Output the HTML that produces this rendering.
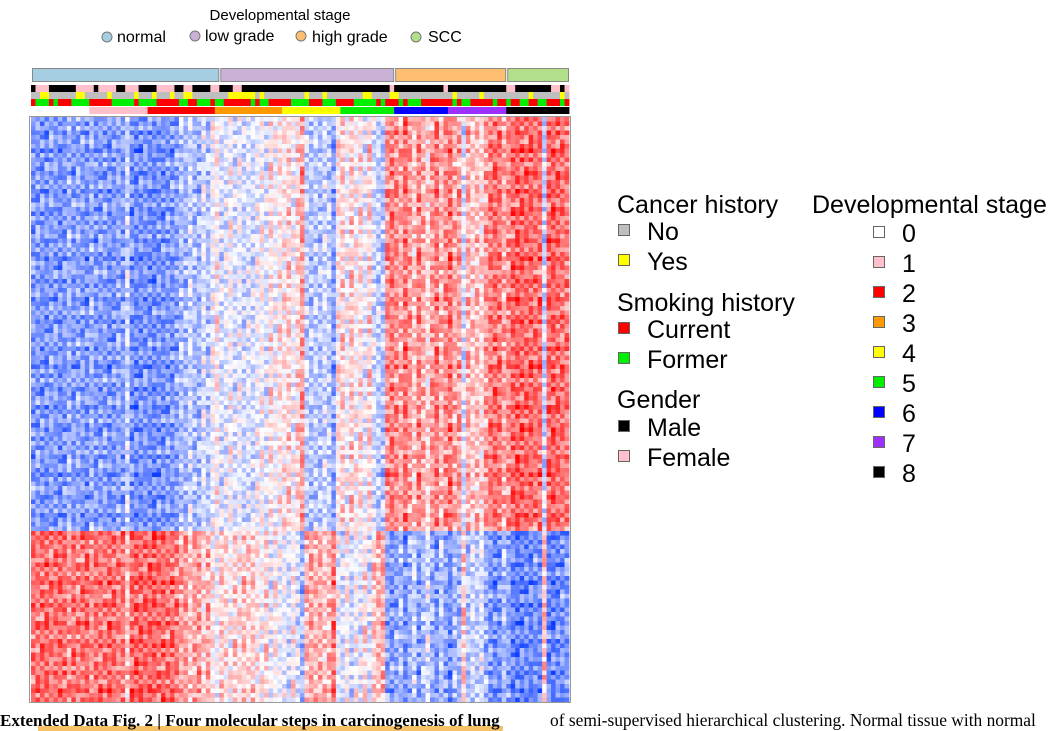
<!DOCTYPE html>
<html><head><meta charset="utf-8"><style>
body{margin:0;background:#fff;width:1053px;height:731px;overflow:hidden;font-family:"Liberation Sans",sans-serif}
svg{display:block}
</style></head><body>
<svg id="fig" width="1053" height="731" viewBox="0 0 1053 731" xmlns="http://www.w3.org/2000/svg">
<g id="top-legend" font-family="Liberation Sans, sans-serif">
<text x="280" y="20" font-size="15" text-anchor="middle">Developmental stage</text>
<g><circle cx="107" cy="37" r="5" fill="#a6cee3" stroke="#777"/><text x="117" y="42" font-size="16">normal</text></g>
<g><circle cx="195" cy="36" r="5" fill="#cab2d6" stroke="#777"/><text x="205" y="41" font-size="16">low grade</text></g>
<g><circle cx="301" cy="36" r="5" fill="#fdbf6f" stroke="#777"/><text x="312" y="42" font-size="16">high grade</text></g>
<g><circle cx="416" cy="37" r="5" fill="#b2df8a" stroke="#777"/><text x="428" y="42" font-size="16">SCC</text></g>
</g>
<g id="annot"></g>
<g id="heat"></g>
<rect x="29.5" y="116.5" width="541" height="586" fill="none" stroke="#999"/>
<g id="right-legend" font-size="25"></g>
<rect x="38" y="726" width="465" height="5" fill="#f7c167"/>
<text x="0" y="726" font-family="Liberation Serif, serif" font-weight="bold" font-size="17">Extended Data Fig. 2 | Four molecular steps in carcinogenesis of lung</text>
<text x="550" y="726" font-family="Liberation Serif, serif" font-size="17.4">of semi-supervised hierarchical clustering. Normal tissue with normal</text>
</svg>
<script>
// ---- data ----
const nCols = 120;
const nUpperRows = 92;
const nLowerRows = 38;
const groupRuns = [["normal",42],["low grade",39],["high grade",25],["SCC",14]];
const stageRuns = [[0,13],[1,13],[2,15],[3,15],[4,13],[5,12],[6,12],[7,13],[8,14]];
const genderRuns = [["M",1],["F",3],["M",6],["F",4],["M",1],["F",4],["M",2],["F",3],["M",4],["F",4],["M",2],["F",2],["M",4],["F",2],["M",3],["F",2],["M",4],["M",29],["F",1],["M",11],["F",1],["M",13],["F",2],["M",8],["F",2],["M",1],["F",1]];
const cancerRuns = [["N",2],["Y",2],["N",6],["Y",2],["N",5],["Y",1],["N",5],["Y",1],["N",3],["Y",1],["N",3],["Y",1],["N",2],["Y",2],["N",8],["Y",6],["N",1],["Y",1],["N",9],["Y",1],["N",3],["Y",1],["N",8],["Y",2],["N",4],["Y",2],["N",12],["Y",1],["N",5],["Y",1],["N",10],["Y",1],["N",6],["Y",1],["N",1]];
const smokeRuns = [["C",1],["F",3],["C",1],["F",1],["C",3],["F",4],["C",5],["F",5],["C",1],["F",4],["C",5],["F",2],["C",2],["F",3],["C",1],["F",2],["C",6],["F",1],["C",1],["F",2],["C",5],["F",4],["C",3],["F",3],["C",4],["F",5],["C",1],["F",1],["C",3],["F",1],["C",1],["F",3],["C",7],["F",1],["C",1],["F",2],["C",5],["F",1],["C",2],["F",1],["C",2],["F",2],["C",2],["F",2],["C",3],["F",1],["C",1],["F",1]];
const colScore = [-0.85,-0.8,-0.85,-0.9,-0.75,-0.8,-0.9,-0.85,-0.6,-0.85,
-0.7,-0.8,-0.9,-0.6,-0.85,-0.8,-0.75,-0.9,-0.85,-0.7,
-0.8,-0.3,-0.9,-0.95,-0.9,-0.85,-0.9,-0.95,-0.85,-0.9,
-0.8,-0.85,-0.75,-0.5,-0.6,-0.3,-0.55,-0.6,-0.2,-0.5,
-0.1,0.1,-0.3,-0.2,0.0,-0.3,-0.1,-0.35,-0.2,-0.3,
-0.1,0.0,-0.25,0.2,-0.1,0.15,0.1,0.3,-0.1,0.25,
0.6,-0.4,-0.5,-0.4,-0.5,-0.3,-0.4,-0.8,0.1,0.3,
-0.1,0.35,0.0,0.2,-0.2,0.3,-0.3,-0.4,-0.5,0.7,
0.8,0.7,0.5,0.9,0.6,0.3,0.8,0.5,0.2,0.6,
0.85,0.4,0.7,0.9,0.5,0.6,-0.3,0.5,0.3,0.4,
0.2,0.6,0.8,0.9,0.85,0.5,0.7,0.95,1,0.95,
0.9,0.95,0.85,0.9,-0.4,0.95,1,0.9,0.85,0.8];
const rowWeight = [0.8,0.9,0.7,1.0,0.85,0.75,0.9,1.1,0.8,0.95,0.7,0.85,1.0,0.9,0.8,0.75,1.05,0.9,0.85,0.7,0.95,1.0,0.8,0.9];
const jitter = [0.1,-0.3,0.25,-0.05,0.35,-0.2,0.0,0.3,-0.35,0.15,-0.1,0.4,-0.25,0.05,0.2,-0.4,0.3,-0.15,0.1,-0.3,0.45,-0.05,-0.2,0.25,0.0,-0.45,0.35,0.1,-0.1,0.2,-0.3,0.05,0.4,-0.2,0.15,-0.35,0.25,0.0,-0.15,0.3,-0.25,0.1,0.5,-0.1,-0.4,0.2,0.05,-0.3,0.35,-0.05];
const legendCancer = [["No","#bebebe"],["Yes","#ffff00"]];
const legendSmoke = [["Current","#ff0000"],["Former","#00ee00"]];
const legendGender = [["Male","#000000"],["Female","#ffc0cb"]];
const stageColors = ["#ffffff","#ffc0cb","#ff0000","#ff9900","#ffff00","#00ee00","#0000ff","#9b30ff","#000000"];
// ---- drawing ----
const NS="http://www.w3.org/2000/svg";
const X0=31, X1=569, Y0=117, Y1=702;
const cw=(X1-X0)/nCols, nRows=nUpperRows+nLowerRows, ch=(Y1-Y0)/nRows;
const xs=c=>X0+c*cw, ys=r=>Y0+r*ch;
function mk(tag,parent){const e=document.createElementNS(NS,tag);parent.appendChild(e);return e;}
function expand(runs){const a=[];runs.forEach(([v,n])=>{for(let i=0;i<n;i++)a.push(v)});while(a.length<nCols)a.push(a[a.length-1]);return a.slice(0,nCols);}
const annot=document.getElementById('annot');
const groupColors={"normal":"#a6cee3","low grade":"#cab2d6","high grade":"#fdbf6f","SCC":"#b2df8a"};
let c0=0;
groupRuns.forEach(([g,n])=>{
 const r=mk('rect',annot);
 
 
 r.setAttribute('x',xs(c0)+1.5);r.setAttribute('y',68.5);r.setAttribute('width',n*cw-2);r.setAttribute('height',13);
 r.setAttribute('fill',groupColors[g]);r.setAttribute('stroke','#888');
 c0+=n;});
function track(arr,colorOf,y,h,name){
 arr.forEach((v,i)=>{const r=mk('rect',annot);
 
 
 r.setAttribute('x',xs(i));r.setAttribute('y',y);r.setAttribute('width',cw+0.4);r.setAttribute('height',h);r.setAttribute('fill',colorOf(v));});}
track(expand(genderRuns),v=>v==="M"?"#000":"#ffc0cb",85,7,'gender-track');
track(expand(cancerRuns),v=>v==="Y"?"#ffff00":"#bebebe",92,7,'cancer-track');
track(expand(smokeRuns),v=>v==="C"?"#ff0000":"#00ee00",99,7,'smoking-track');
track(expand(stageRuns),v=>stageColors[v],107,7,'stage-track');
const heat=document.getElementById('heat');
function col(v){v=Math.max(-1,Math.min(1,v));const t=Math.abs(v);
 let R,G,B; if(v>=0){R=255;G=255*(1-t);B=255*(1-t);} else {R=255*(1-t)+10*t;G=255*(1-t)+60*t;B=255;}
 return `rgb(${R|0},${G|0},${B|0})`;}
for(let r=0;r<nRows;r++){
 const sign=r<nUpperRows?1:-1.05;
 const w=rowWeight[r%rowWeight.length];
 for(let c=0;c<nCols;c++){
  const j=jitter[(r*31+c*17)%jitter.length]*0.65;
  const v=sign*colScore[c]*w*0.72+j;
  const e=mk('rect',heat);
  
  
  e.setAttribute('x',xs(c).toFixed(2));e.setAttribute('y',ys(r).toFixed(2));
  e.setAttribute('width',(cw+0.4).toFixed(2));e.setAttribute('height',(ch+0.4).toFixed(2));
  e.setAttribute('fill',col(v));}}
const lg=document.getElementById('right-legend');
function title(t,x,y){const e=mk('text',lg);e.setAttribute('x',x);e.setAttribute('y',y);e.textContent=t;}
function item(lbl,color,sx,tx,y){const g=mk('g',lg);
 
 
 const s=mk('rect',g);s.setAttribute('x',sx+0.5);s.setAttribute('y',y-15.5);s.setAttribute('width',11);s.setAttribute('height',11);s.setAttribute('fill',color);s.setAttribute('stroke','#666');
 const t=mk('text',g);t.setAttribute('x',tx);t.setAttribute('y',y);t.textContent=lbl;}
title('Cancer history',617,213);
legendCancer.forEach((d,i)=>item(d[0],d[1],618,647,240+i*30));
title('Smoking history',617,311);
legendSmoke.forEach((d,i)=>item(d[0],d[1],618,647,338+i*30));
title('Gender',617,408);
legendGender.forEach((d,i)=>item(d[0],d[1],618,647,436+i*30));
title('Developmental stage',812,213);
stageColors.forEach((c,i)=>item(String(i),c,873,902,242+i*30));
</script>
</body></html>
